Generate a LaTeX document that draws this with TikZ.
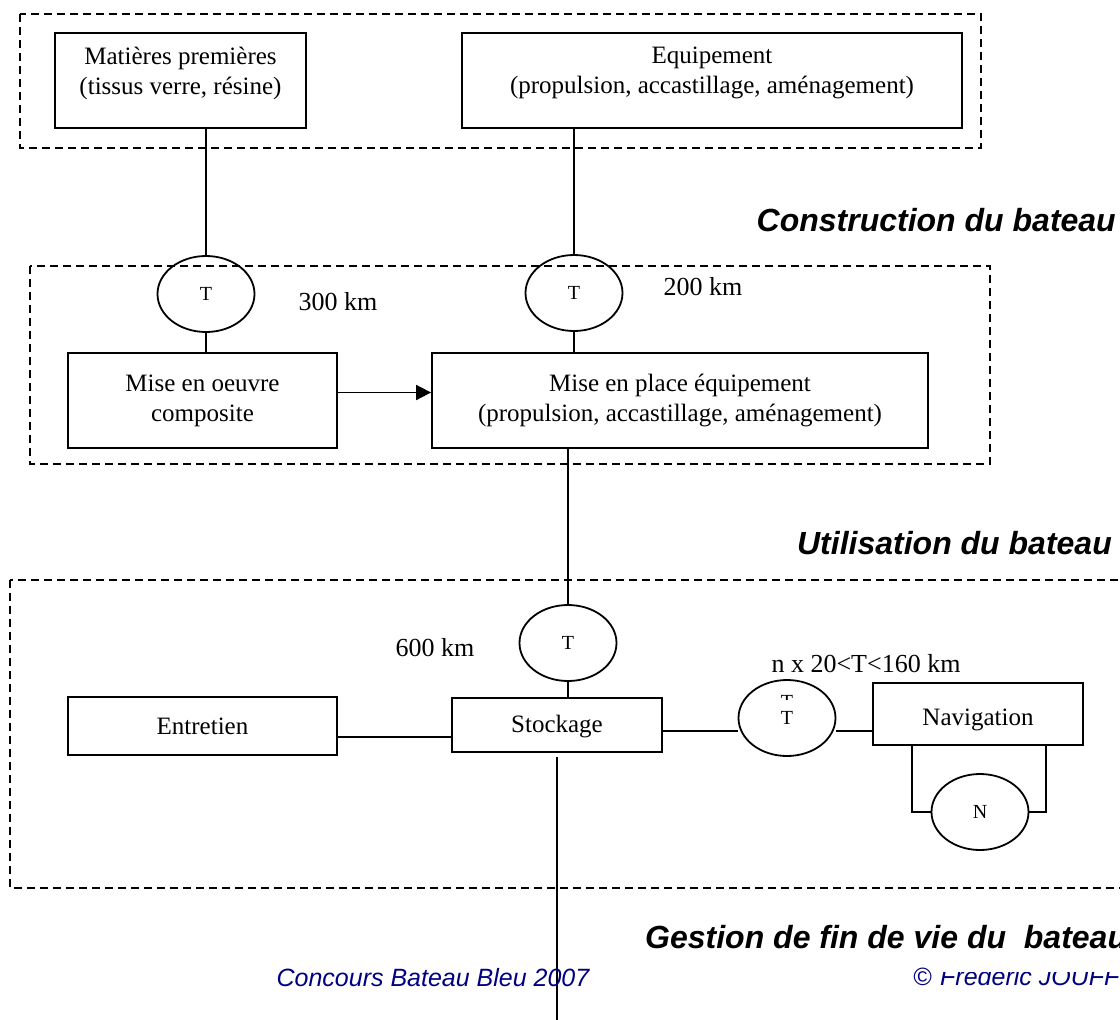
\documentclass[tikz,border=0pt]{standalone}
\usepackage{fontspec}
\setmainfont{Liberation Serif}
\newfontfamily\arialf{Liberation Sans}
\usetikzlibrary{shapes.geometric,arrows.meta}
\definecolor{footblue}{RGB}{0,0,128}
\tikzset{
  box/.style={draw, line width=1.8pt, rectangle, inner sep=0pt, align=center, font=\fontsize{25}{30}\selectfont},
  oval/.style={draw, line width=1.8pt, ellipse, inner sep=0pt, minimum width=97pt, minimum height=76pt, font=\fontsize{20}{22}\selectfont},
  zone/.style={draw, line width=1.4pt, dash pattern=on 8pt off 5pt},
  conn/.style={line width=1.8pt},
  lbl/.style={inner sep=0pt, font=\fontsize{26}{30}\selectfont},
  boxtext/.style={inner sep=0pt, align=center, font=\fontsize{25}{30}\selectfont},
  title/.style={inner sep=0pt, font=\arialf\bfseries\itshape\fontsize{32}{36}\selectfont},
  foot/.style={inner sep=0pt, text=footblue, font=\arialf\itshape\fontsize{25}{30}\selectfont}
}
\begin{document}
\begin{tikzpicture}[x=1pt,y=-1pt]
\clip (0,0) rectangle (1120,1020);
\useasboundingbox (0,0) rectangle (1120,1020);
\fill[white] (0,0) rectangle (1120,1020);

% zones
\draw[zone] (20,14) rectangle (981,148);
\draw[zone] (30,266) rectangle (990,464);
\draw[zone] (10,580) rectangle (1140,888);

% top boxes
\node[box, minimum width=251pt, minimum height=95pt] (mat) at (180.5,80.5) {};
\node[boxtext] (matT) at (180.5,73) {Matières premières\\(tissus verre, résine)};
\node[box, minimum width=500pt, minimum height=95pt] (equ) at (712,80.5) {};
\node[boxtext] (equT) at (712,73) {Equipement\\(propulsion, accastillage, aménagement)};

% transport ellipses (construction)
\node[oval] (t1) at (206,294) {T};
\node[oval] (t2) at (574,293) {T};
\node[lbl] (l300) at (338,302) {300 km};
\node[lbl] (l200) at (703,287) {200 km};

\draw[conn] (t1.north) -- (t1.north |- mat.south);
\draw[conn] (t2.north) -- (t2.north |- equ.south);

% build boxes
\node[box, minimum width=269pt, minimum height=95pt] (moe) at (202.5,400.5) {Mise en oeuvre\\composite};
\node[box, minimum width=496pt, minimum height=95pt] (mep) at (680,400.5) {Mise en place équipement\\(propulsion, accastillage, aménagement)};
\draw[conn] (t1.south) -- (t1.south |- moe.north);
\draw[conn] (t2.south) -- (t2.south |- mep.north);
\draw[conn, -{Triangle[length=15pt,width=15pt]}] ([yshift=8pt]moe.east) -- ([yshift=8pt]mep.west);

% titles
\node[title, anchor=east] (tc) at (1116,220) {Construction du bateau};
\node[title, anchor=east] (tu) at (1112,543) {Utilisation du bateau};
\node[title, anchor=west] (tg) at (645,937) {Gestion de fin de vie du~~bateau};

% usage zone
\node[oval] (t3) at (568,643) {T};
\node[lbl] (l600) at (435,648) {600 km};
\node[box, minimum width=210pt, minimum height=54pt] (sto) at (557,725) {};
\node[boxtext] (stoT) at (557,727) {Stockage};
\node[box, minimum width=269pt, minimum height=58pt] (ent) at (202.5,726) {Entretien};
\node[oval] (t4) at (787,718) {T};
\begin{scope}
\clip (777,693) rectangle (797,699.5);
\node[inner sep=0pt, anchor=base, font=\fontsize{20}{22}\selectfont] (t4s) at (787,708) {T};
\end{scope}
\node[box, minimum width=210pt, minimum height=62pt] (nav) at (978,714) {};
\node[boxtext] (navT) at (978,720) {Navigation};
\node[lbl] (lnx) at (866,664) {n x 20<T<160 km};
\node[oval] (nn) at (980,812) {N};

\coordinate (yE) at (0,737);
\coordinate (yT) at (0,731);
\coordinate (bend) at (557,1030);

\draw[conn] (mep.south -| t3.north) -- (t3.north);
\draw[conn] (t3.south) -- (t3.south |- sto.north);
\draw[conn] (ent.east |- yE) -- (sto.west |- yE);
\draw[conn] (sto.east |- yT) -- (t4.west |- yT);
\draw[conn] (t4.east |- yT) -- (nav.west |- yT);
\draw[conn] (nn.west) -| ([xshift=-66pt]nav.south);
\draw[conn] (nn.east) -| ([xshift=68pt]nav.south);
\draw[conn] ([yshift=-4pt]sto.south) -- (bend);

% footer
\node[foot] (fc) at (433,978) {Concours Bateau Bleu 2007};
\node[foot, anchor=west] (fcopy) at (913,977) {©};
\begin{scope}
\clip (935,972) rectangle (1120,1000);
\node[foot, anchor=west] (fname) at (940,977) {Frederic JOUFF};
\end{scope}
\end{tikzpicture}
\end{document}
